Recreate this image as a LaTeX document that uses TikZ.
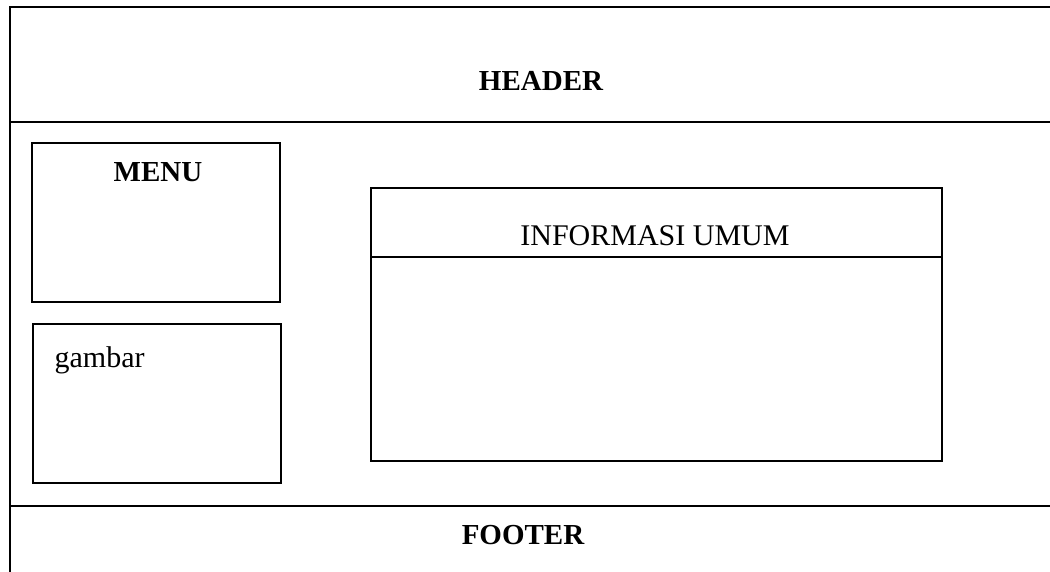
\documentclass[tikz,border=0pt]{standalone}
\usepackage{fontspec}
\setmainfont{Liberation Serif}
\begin{document}
\begin{tikzpicture}[x=0.5pt,y=-0.5pt,line width=1pt,
  judul/.style={font=\bfseries\fontsize{14.5}{17}\selectfont},
  isi/.style={font=\fontsize{15}{18}\selectfont}]
  \useasboundingbox (0,0) rectangle (1050,572);
  % bingkai halaman
  \coordinate (B1) at (10,572);
  \coordinate (B2) at (10,7);
  \coordinate (B3) at (1050,7);
  \draw (B1) -- (B2) -- (B3);
  \draw (10,122) -- (1050,122);
  \draw (10,506) -- (1050,506);
  \node[judul] (header) at (541,81) {HEADER};
  \node[judul] (footer) at (523,535) {FOOTER};
  % menu dan gambar
  \draw (32,143) rectangle (280,302);
  \node[judul] (menu) at (158,172) {MENU};
  \draw (33,324) rectangle (281,483);
  \node[isi, anchor=base west] (gambar) at (47,367) {gambar};
  % informasi umum
  \draw (371,188) rectangle (942,461);
  \draw (371,257) -- (942,257);
  \node[isi] (info) at (655,236) {INFORMASI UMUM};
\end{tikzpicture}
\end{document}
